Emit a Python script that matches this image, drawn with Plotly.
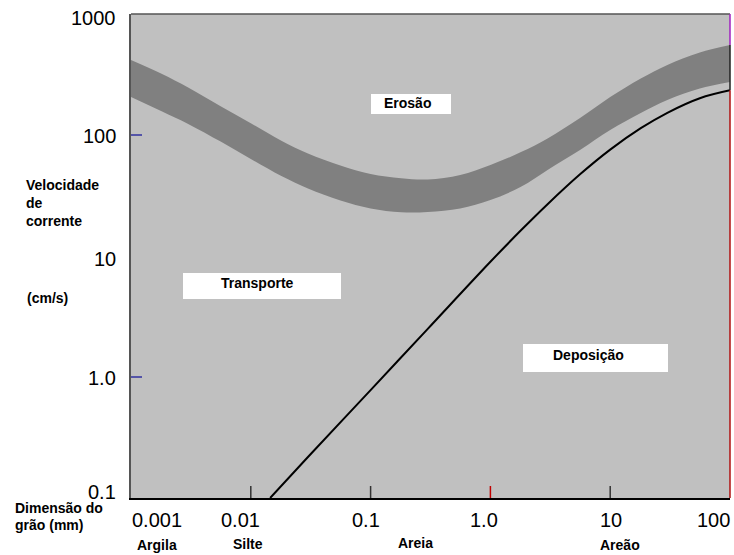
import math
import plotly.graph_objects as go

# ---- data ----
grain_mm = [0.001, 0.0018, 0.003, 0.0056, 0.01, 0.018, 0.03, 0.056, 0.1, 0.18, 0.3,
            0.56, 1, 1.8, 3, 5.6, 10, 18, 30, 56, 100]
erosion_upper = [417, 321, 247, 173, 125, 89.6, 70.3, 56.0, 47.5, 43.9, 42.9,
                 46.7, 56.6, 72.2, 93.7, 138, 206, 293, 379, 481, 554]
erosion_lower = [206, 157, 123.5, 88.2, 63.3, 45.8, 36.1, 28.7, 24.7, 23.0, 23.1,
                 24.7, 29.0, 37.3, 51.4, 75.2, 110, 152, 194.7, 242, 274]

dep_grain = [0.0145, 0.03, 0.1, 0.3, 1, 1.8, 3, 5.6, 10, 18, 30, 56, 100]
dep_vel = [0.1, 0.218, 0.78, 2.5, 8.96, 16.3, 26.8, 47.3, 75.7, 113.8, 152.6, 201.4, 234]

x_tick_vals = [0.001, 0.01, 0.1, 1.0, 10, 100]
x_tick_text = ["0.001", "0.01", "0.1", "1.0", "10", "100"]
y_tick_vals = [1000, 100, 10, 1.0, 0.1]
y_tick_text = ["1000", "100", "10", "1.0", "0.1"]

class_names = ["Argila", "Silte", "Areia", "Areão"]

region_labels = ["Erosão", "Transporte", "Deposição"]

# ---- layout geometry ----
W, H = 734, 555
L, R, T, B = 131, 4, 14, 57
PW, PH = W - L - R, H - T - B


def px2paper(px, py):
    return (px - L) / PW, (T + PH - py) / PH


def yv2paper(v):
    return (math.log10(v) + 1) / 4.0


fig = go.Figure()

# erosion band
fig.add_trace(go.Scatter(x=grain_mm, y=erosion_lower, mode="lines",
                         line=dict(width=0, color="#808080", shape="spline", smoothing=1.0),
                         hoverinfo="skip", showlegend=False))
fig.add_trace(go.Scatter(x=grain_mm, y=erosion_upper, mode="lines",
                         line=dict(width=0, color="#808080", shape="spline", smoothing=1.0),
                         fill="tonexty", fillcolor="#808080",
                         hoverinfo="skip", showlegend=False))
# deposition curve
fig.add_trace(go.Scatter(x=dep_grain, y=dep_vel, mode="lines",
                         line=dict(width=2, color="black", shape="spline", smoothing=1.0),
                         hoverinfo="skip", showlegend=False))

font_tick = dict(family="Liberation Sans, Arial, sans-serif", size=20, color="black")
font_lbl = dict(family="Liberation Sans, Arial, sans-serif", size=14, color="black")

annotations = []
# x tick labels
x_shift = {0: 26, 1: -10, 2: -5, 3: -6, 4: 1, 5: -17}
for i, (v, t) in enumerate(zip(x_tick_vals, x_tick_text)):
    annotations.append(dict(x=math.log10(v), xref="x", y=px2paper(0, 520)[1], yref="paper",
                            text=t, showarrow=False, font=font_tick,
                            xanchor="center", yanchor="middle", xshift=x_shift[i]))
# y tick labels
y_shift = {0: -4, 1: -1, 2: -3, 3: -1, 4: 6}
for i, (v, t) in enumerate(zip(y_tick_vals, y_tick_text)):
    annotations.append(dict(x=px2paper(118, 0)[0], xref="paper", y=math.log10(v), yref="y",
                            text=t, showarrow=False, font=font_tick,
                            xanchor="right", yanchor="middle", yshift=y_shift[i]))
# grain class names
class_px = [157, 248, 415, 620]
class_py = [545, 544, 543, 545]
for name, cx, cy in zip(class_names, class_px, class_py):
    xp, yp = px2paper(cx, cy)
    annotations.append(dict(x=xp, y=yp, xref="paper", yref="paper", text="<b>%s</b>" % name,
                            showarrow=False, font=font_lbl, xanchor="center", yanchor="middle",
                            borderpad=0))

# axis titles
for txt, cx, cy in [("<b>Velocidade</b>", 24, 185), ("<b>de</b>", 24, 203), ("<b>corrente</b>", 24, 221),
                    ("<b>(cm/s)</b>", 25, 298), ("<b>Dimensão do</b>", 13, 508), ("<b>grão (mm)</b>", 13, 525)]:
    xp, yp = px2paper(cx, cy)
    annotations.append(dict(x=xp, y=yp, xref="paper", yref="paper", text=txt, showarrow=False,
                            font=font_lbl, xanchor="left", yanchor="middle"))

shapes = []
# region label boxes
boxes = [(371, 94, 451, 114, 407, 103), (183, 273, 341, 299, 257, 283), (523, 344, 668, 372, 588, 355)]
for lbl, (x0, y0, x1, y1, tx, ty) in zip(region_labels, boxes):
    a0, b0 = px2paper(x0, y0)
    a1, b1 = px2paper(x1, y1)
    shapes.append(dict(type="rect", xref="paper", yref="paper", x0=a0, x1=a1, y0=b1, y1=b0,
                       fillcolor="white", line=dict(width=0), layer="above"))
    xp, yp = px2paper(tx, ty)
    annotations.append(dict(x=xp, y=yp, xref="paper", yref="paper", text="<b>%s</b>" % lbl,
                            showarrow=False, font=font_lbl, xanchor="center", yanchor="middle"))

# borders
shapes.append(dict(type="line", xref="paper", yref="paper", x0=0, x1=1, y0=1, y1=1,
                   line=dict(color="#555555", width=1.5)))
shapes.append(dict(type="line", xref="paper", yref="paper", x0=1, x1=1, y0=1,
                   y1=yv2paper(erosion_upper[-1]), line=dict(color="#a020c0", width=1.5)))
shapes.append(dict(type="line", xref="paper", yref="paper", x0=1, x1=1,
                   y0=yv2paper(erosion_upper[-1]), y1=yv2paper(dep_vel[-1]),
                   line=dict(color="#202020", width=1.5)))
shapes.append(dict(type="line", xref="paper", yref="paper", x0=1, x1=1,
                   y0=yv2paper(dep_vel[-1]), y1=0, line=dict(color="#b01010", width=1.5)))

# small inside tick marks
tick_cols = {0.01: "#333333", 0.1: "#333333", 1.0: "#c00000", 10: "#333333"}
for v, c in tick_cols.items():
    xp = (math.log10(v) + 3) / 5.0
    shapes.append(dict(type="line", xref="paper", yref="paper", x0=xp, x1=xp, y0=0, y1=12 / PH,
                       line=dict(color=c, width=1.5)))
for v in [100, 1.0]:
    yp = yv2paper(v)
    shapes.append(dict(type="line", xref="paper", yref="paper", x0=0, x1=11 / PW, y0=yp, y1=yp,
                       line=dict(color="#3030a0", width=1.5)))

fig.update_layout(
    width=W, height=H,
    margin=dict(l=L, r=R, t=T, b=B),
    paper_bgcolor="white", plot_bgcolor="#c0c0c0",
    xaxis=dict(type="log", range=[-3, 2], showgrid=False, zeroline=False,
               showticklabels=False, ticks="", showline=True, linecolor="black", linewidth=1.5),
    yaxis=dict(type="log", range=[-1, 3], showgrid=False, zeroline=False,
               showticklabels=False, ticks="", showline=True, linecolor="#555555", linewidth=1.5),
    annotations=annotations, shapes=shapes, showlegend=False,
)

fig.write_html("out.html")
